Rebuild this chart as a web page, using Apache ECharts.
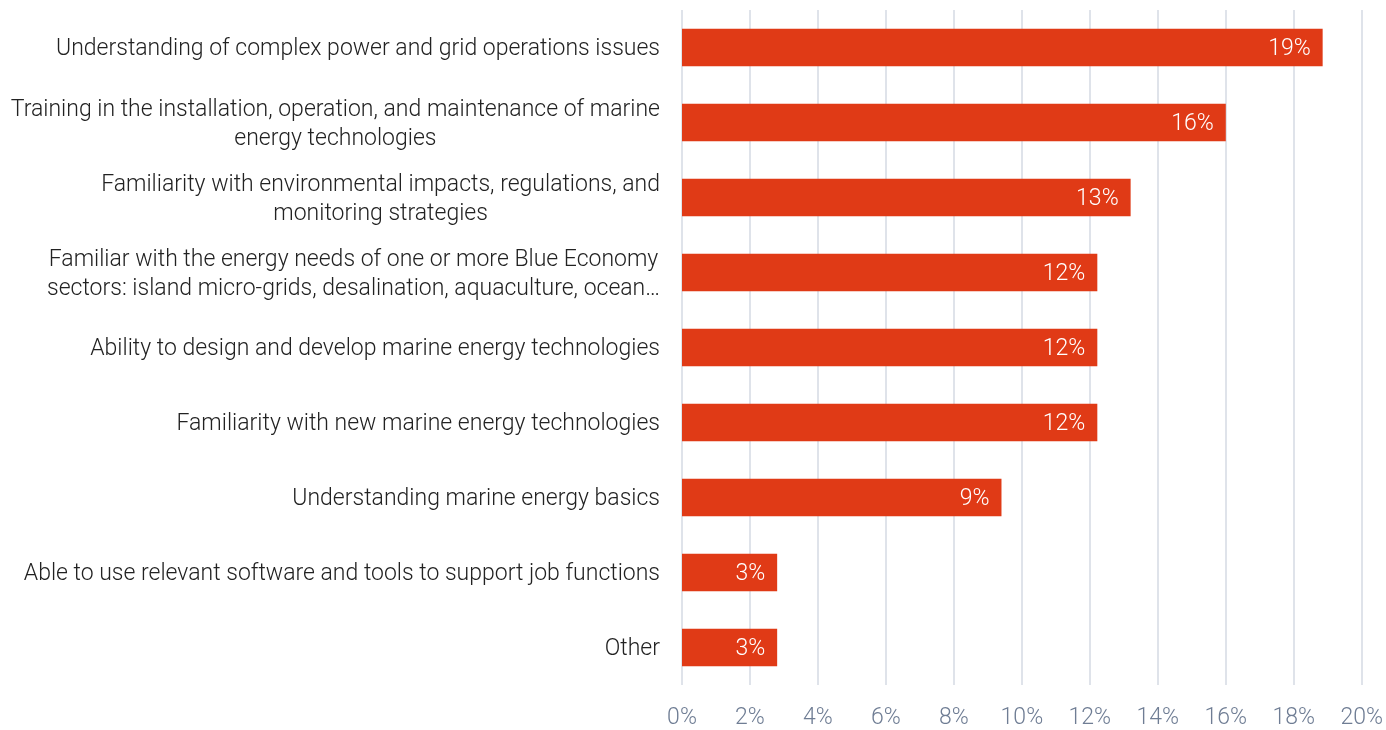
<!DOCTYPE html>
<html><head><meta charset="utf-8">
<script src="https://cdn.jsdelivr.net/npm/echarts@6/dist/echarts.min.js"></script>
<style>html,body{margin:0;padding:0;background:#fff}#c{width:1386px;height:730px}</style>
</head><body><div id="c"></div>
<script>
const categories = [
  "Understanding of complex power and grid operations issues",
  "Training in the installation, operation, and maintenance of marine\nenergy technologies",
  "Familiarity with environmental impacts, regulations, and\nmonitoring strategies",
  "Familiar with the energy needs of one or more Blue Economy\nsectors: island micro-grids, desalination, aquaculture, ocean…",
  "Ability to design and develop marine energy technologies",
  "Familiarity with new marine energy technologies",
  "Understanding marine energy basics",
  "Able to use relevant software and tools to support job functions",
  "Other"
];
const values = [18.85, 16.0, 13.2, 12.22, 12.22, 12.22, 9.4, 2.8, 2.8];
const xTicks = [0, 2, 4, 6, 8, 10, 12, 14, 16, 18, 20];

const chart = echarts.init(document.getElementById('c'));
chart.setOption({
  animation: false,
  textStyle: { fontFamily: 'Roboto' },
  grid: { left: 682, right: 24, top: 10, bottom: 42, containLabel: false },
  xAxis: {
    type: 'value', min: xTicks[0], max: xTicks[xTicks.length - 1], interval: 2,
    axisLine: { show: false }, axisTick: { show: false },
    splitLine: { lineStyle: { color: '#dfe3ea', width: 2 } },
    axisLabel: { formatter: v => v + '%', color: '#6f7d94', fontSize: 23, fontWeight: 300, margin: 22, fontFamily: 'Roboto' }
  },
  yAxis: {
    type: 'category', data: categories, inverse: true,
    axisLine: { show: false }, axisTick: { show: false },
    axisLabel: {
      margin: 22, color: '#222', fontSize: 23, fontWeight: 300, fontFamily: 'Roboto',
      formatter: s => s.split('\n').map(l => '{c|' + l + '}').join('\n'),
      rich: { c: { align: 'center', color: '#222', fontSize: 23, fontWeight: 300, fontFamily: 'Roboto', lineHeight: 29, padding: [4, 0, 0, 0] } }
    }
  },
  series: [{
    type: 'bar', data: values, barWidth: '50%',
    itemStyle: { color: '#e03a16' },
    label: {
      show: true, position: 'insideRight', distance: 12, offset: [0, 2],
      formatter: p => Math.round(p.value) + '%',
      color: '#fff', fontSize: 23, fontWeight: 300, fontFamily: 'Roboto'
    }
  }]
});
</script></body></html>
